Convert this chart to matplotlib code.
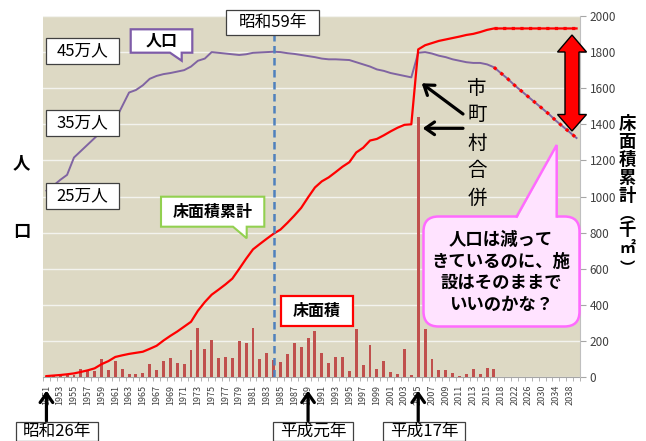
import matplotlib
matplotlib.use('Agg')
import matplotlib.pyplot as plt
import matplotlib.patches as mpatches
import numpy as np

plt.rcParams['font.family'] = ['Noto Sans CJK JP', 'DejaVu Sans']

W, H = 646, 441

# ---------------- data ----------------
years = list(range(1951, 2017)) + list(range(2018, 2041, 2))

# 床面積 (千㎡), annual 1951-2016
floor_area = [5, 8, 6, 10, 12, 43, 35, 33, 98, 39, 89, 44, 15, 15, 24, 70, 40, 89, 105, 79,
              72, 148, 270, 153, 205, 105, 109, 107, 201, 190, 271, 100, 131, 95, 83, 127,
              187, 164, 214, 253, 133, 79, 111, 111, 35, 264, 66, 177, 46, 89, 29, 18, 157,
              9, 1442, 266, 101, 39, 39, 24, 6, 15, 46, 17, 50, 43]

# 床面積累計 (千㎡), annual 1951-2016
floor_cum = [5, 8, 11, 15, 20, 28, 37, 48, 71, 88, 111, 120, 128, 134, 140, 156, 173, 202,
             228, 252, 279, 306, 367, 415, 456, 484, 513, 545, 599, 655, 707, 737, 766, 794,
             817, 854, 894, 937, 995, 1050, 1084, 1106, 1135, 1165, 1190, 1244, 1270, 1310,
             1319, 1339, 1361, 1381, 1397, 1400, 1815, 1838, 1850, 1862, 1870, 1878, 1886,
             1895, 1901, 1911, 1923, 1931]
# 床面積累計 (維持した場合) 2018-2040
floor_cum_future = [1931, 1931, 1931, 1931, 1931, 1931, 1931, 1931, 1931, 1931, 1931, 1931]

# 人口 (人), 1951-2016
pop_hist = [258000, 265000, 273000, 280000, 304000, 313000, 322000, 331000, 340000, 348000,
            356000, 375000, 394000, 397500, 404000, 413000, 417000, 419500, 421000, 423000,
            425000, 430000, 438000, 441000, 450000, 449000, 448000, 447000, 446000, 447000,
            449000, 449500, 450000, 450500, 450000, 448500, 447500, 446000, 444500, 443000,
            441000, 440000, 440000, 439500, 439000, 436000, 433000, 430000, 426000, 424000,
            421000, 419000, 417000, 415000, 449000, 450000, 448000, 445000, 443000, 440000,
            438000, 436000, 435000, 435000, 433000, 429000]
# 人口推計 2018-2040
pop_future = [421000, 413000, 404000, 396000, 388000, 380000, 372000, 364000, 355000,
              347000, 339000, 331000]

right_ticks = [0, 200, 400, 600, 800, 1000, 1200, 1400, 1600, 1800, 2000]
pop_box_labels = [("45万人", 450000), ("35万人", 350000), ("25万人", 250000)]
marker_year = 1984

# ---------------- figure ----------------
fig = plt.figure(figsize=(W / 100, H / 100), dpi=100)
fig.patch.set_facecolor('white')

L, R, T, B = 43, 580, 16, 377
ax = fig.add_axes([L / W, 1 - B / H, (R - L) / W, (B - T) / H])
ax2 = ax.twinx()

n = len(years)
x = np.arange(n)
nh = len(pop_hist)

ax.set_facecolor('#DDD9C4')
ax.set_xlim(-0.5, n - 0.5)
ax.set_ylim(0, 500000)
ax.set_yticks(np.arange(0, 500001, 50000))
ax.yaxis.grid(True, color='#F3F3EE', lw=1.0)
ax.set_axisbelow(True)
ax.tick_params(axis='y', length=0, labelleft=False)

pop_all = pop_hist + pop_future
ax.plot(x, pop_all, color='#8064A2', lw=1.4, zorder=3)
ax.plot(x[nh - 1:], pop_all[nh - 1:], color='red', lw=2.3, ls=(0, (1, 1.7)), zorder=4)

ax.set_xticks(x[::2])
ax.set_xticklabels([str(years[i]) for i in x[::2]], rotation=90, fontsize=6.5,
                   color='#404040')
ax.set_xticks(np.arange(-0.5, n, 1), minor=True)
ax.tick_params(axis='x', which='major', length=0, pad=5.5)
ax.tick_params(axis='x', which='minor', length=3, color='#A6A6A6')
for s in ['left', 'top', 'right']:
    ax.spines[s].set_visible(False)
ax.spines['bottom'].set_color('#A6A6A6')

ax2.set_ylim(0, 2000)
ax2.set_yticks(right_ticks)
ax2.tick_params(axis='y', length=4, color='#A6A6A6', labelsize=8.5,
                labelcolor='#404040', pad=3)
for s in ['left', 'top', 'bottom']:
    ax2.spines[s].set_visible(False)
ax2.spines['right'].set_color('#BFBFBF')

ax2.bar(x[:len(floor_area)], floor_area, width=0.42, color='#C0504D', zorder=2)
cum_all = floor_cum + floor_cum_future
ax2.plot(x, cum_all, color='red', lw=1.6, zorder=3)
ax2.plot(x[nh - 1:], cum_all[nh - 1:], color='red', lw=2.3, ls=(0, (1, 1.7)), zorder=4)

ax2.axvline(years.index(marker_year), ymin=0, ymax=(B - 35) / (B - T), color='#4F81BD',
            lw=1.8, ls=(0, (3, 1.8)), zorder=5)

# bottom arrows pointing at years
for yr in [1951, 1989, 2005]:
    i = years.index(yr)
    ax2.annotate('', xy=(i, -0.038), xycoords=('data', 'axes fraction'),
                 xytext=(i, -0.122), textcoords=('data', 'axes fraction'),
                 arrowprops=dict(arrowstyle='->,head_length=0.5,head_width=0.35',
                                 lw=2.3, color='black', mutation_scale=13,
                                 shrinkA=0, shrinkB=0),
                 annotation_clip=False, zorder=20)

# ---------------- overlay (pixel coordinates) ----------------
ov = fig.add_axes([0, 0, 1, 1], zorder=10)
ov.set_xlim(0, W)
ov.set_ylim(H, 0)
ov.axis('off')


def box(x0, y0, x1, y1, ec='#404040', lw=0.9, tail=None):
    pts = [(x0, y0), (x1, y0), (x1, y1)] + (tail or []) + [(x0, y1)]
    ov.add_patch(mpatches.Polygon(pts, closed=True, fc='white', ec=ec, lw=lw,
                                  joinstyle='miter'))


def txt(xc, yc, s, size=12, weight='normal', color='black'):
    ov.text(xc, yc, s, ha='center', va='center', fontsize=size, fontweight=weight,
            color=color)


# population boxes aligned to grid lines
for lab, val in pop_box_labels:
    yc = B - (val / 500000) * (B - T)
    box(46, yc - 14, 119, yc + 12)
    txt(82.5, yc - 1, lab, 12)

# 人口 callout
box(130.7, 29.3, 192.3, 52.7, ec='#7E5CA8', lw=1.6,
    tail=[(181.7, 52.7), (181.7, 60.7), (170, 52.7)])
txt(161.5, 41, '人口', 11.5, 'bold')

# 昭和59年
box(226, 10, 319.3, 35)
txt(272.7, 22.5, '昭和59年', 12)

# 床面積累計 callout
box(161, 196.7, 264.3, 226.7, ec='#92D050', lw=1.5,
    tail=[(246.7, 226.7), (246.7, 238.3), (233, 226.7)])
txt(212.7, 211.7, '床面積累計', 11.5, 'bold')

# 床面積 box
box(281, 296, 353.3, 326, ec='red', lw=1.6)
txt(317, 311, '床面積', 11.5, 'bold')

# bottom boxes
box(16, 421.7, 97.7, 440.5)
txt(57, 431.5, '昭和26年', 12)
box(272.7, 421.7, 353.3, 440.5)
txt(313, 431.5, '平成元年', 12)
box(383.3, 421.7, 465, 440.5)
txt(424, 431.5, '平成17年', 12)

# 市町村合併 text and arrows
for ch, yy in zip('市町村合併', [88, 115, 143, 171, 198]):
    txt(477, yy, ch, 14)
arr = dict(arrowstyle='->,head_length=0.5,head_width=0.35', lw=2.3, color='black',
           mutation_scale=13, shrinkA=0, shrinkB=0)
ov.annotate('', xy=(421.7, 83.3), xytext=(463, 114), arrowprops=arr)
ov.annotate('', xy=(422.7, 128.3), xytext=(463, 128.3), arrowprops=arr)

# red double arrow
c = 572
ov.add_patch(mpatches.Polygon(
    [(c, 35), (c + 14.5, 52), (c + 7, 52), (c + 7, 114.5), (c + 14.5, 114.5), (c, 131),
     (c - 14.5, 114.5), (c - 7, 114.5), (c - 7, 52), (c - 14.5, 52)],
    closed=True, fc='red', ec='black', lw=1.0, zorder=6))

# pink speech bubble
pink_fc = '#FFE3FF'
pink_ec = '#FF6BFF'
ov.add_patch(mpatches.FancyBboxPatch((423.5, 216.5), 156, 110,
                                     boxstyle='round,pad=0,rounding_size=15',
                                     fc=pink_fc, ec=pink_ec, lw=1.8, zorder=3))
ov.add_patch(mpatches.Polygon([(516.7, 219.5), (556.7, 145), (556.7, 219.5)], closed=True,
                              fc=pink_fc, ec='none', zorder=4))
ov.plot([516.7, 556.7, 556.7], [216.5, 145, 216.5], color=pink_ec, lw=1.8, zorder=5,
        solid_joinstyle='miter')
for line, yy in zip(['人口は減って', 'きているのに、施', '設はそのままで', 'いいのかな？'],
                    [240, 261.7, 283, 305]):
    ov.text(501, yy, line, ha='center', va='center', fontsize=12.5, fontweight='bold',
            zorder=6)

# axis titles
for ch, yy, fs in zip(['床', '面', '積', '累', '計', '︵', '千', '㎡', '︶'],
                      [124, 142, 160, 178, 196, 213, 230, 248, 268],
                      [12.5, 12.5, 12.5, 12.5, 12.5, 11, 12.5, 11.5, 11]):
    txt(627, yy, ch, fs, 'bold')
txt(21.7, 163, '人', 12.5, 'bold')
txt(21.7, 231.7, '口', 12.5, 'bold')

fig.savefig('out.png', dpi=100, facecolor='white')
